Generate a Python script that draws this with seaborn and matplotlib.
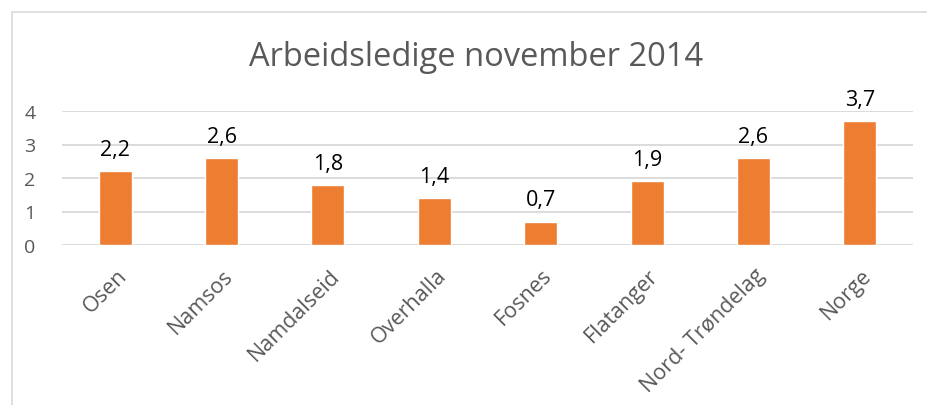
import matplotlib
matplotlib.use("Agg")
import matplotlib.pyplot as plt
import matplotlib.transforms as mtrans
import seaborn as sns
import pandas as pd

# data
steder = ["Osen", "Namsos", "Namdalseid", "Overhalla", "Fosnes",
          "Flatanger", "Nord- Trøndelag", "Norge"]
ledige = [2.2, 2.6, 1.8, 1.4, 0.7, 1.9, 2.6, 3.7]
yticks = [0, 1, 2, 3, 4]

df = pd.DataFrame({"Sted": steder, "Ledige": ledige})

sns.set_theme(style="white")
plt.rcParams["font.family"] = ["Open Sans", "DejaVu Sans"]

fig = plt.figure(figsize=(9.28, 4.06), dpi=100)
ax = fig.add_axes([62 / 928, 160 / 406, 851 / 928, 134 / 406])

sns.barplot(data=df, x="Sted", y="Ledige", color="#ED7D31", width=0.31,
            saturation=1, ax=ax)

ax.set_ylim(0, 4)
ax.set_xlim(-0.5, len(steder) - 0.5)
ax.set_yticks(yticks)
ax.yaxis.grid(True, color="#D9D9D9", linewidth=1.3)
ax.set_axisbelow(True)
for s in ax.spines.values():
    s.set_visible(False)
ax.set_xlabel("")
ax.set_ylabel("")
ax.tick_params(axis="both", length=0, colors="#595959")
ax.tick_params(axis="y", pad=19, labelsize=14)
ax.tick_params(axis="x", pad=14, labelsize=15.5)
flytt = mtrans.ScaledTranslation(1 / 100, 0, fig.dpi_scale_trans)
for lab in ax.get_xticklabels():
    lab.set_rotation(45)
    lab.set_ha("right")
    lab.set_rotation_mode("anchor")
    lab.set_transform(lab.get_transform() + flytt)

# verdier over søylene
for i, v in enumerate(ledige):
    ax.annotate(f"{v:.1f}".replace(".", ","), (i, v), xytext=(0, 8),
                textcoords="offset points", ha="center", va="bottom",
                fontsize=15.5, color="black")

fig.text(476 / 928, 1 - 58 / 406, "Arbeidsledige november 2014", ha="center",
         va="center", fontsize=23.5, color="#595959")

# ramme rundt diagrammet
ramme = plt.Rectangle((12 / 928, -0.1), 1.2, 1 - 13 / 406 + 0.1,
                      transform=fig.transFigure, fill=False,
                      edgecolor="#D9D9D9", linewidth=1.2)
fig.patches.append(ramme)

fig.savefig("out.png", dpi=100)
